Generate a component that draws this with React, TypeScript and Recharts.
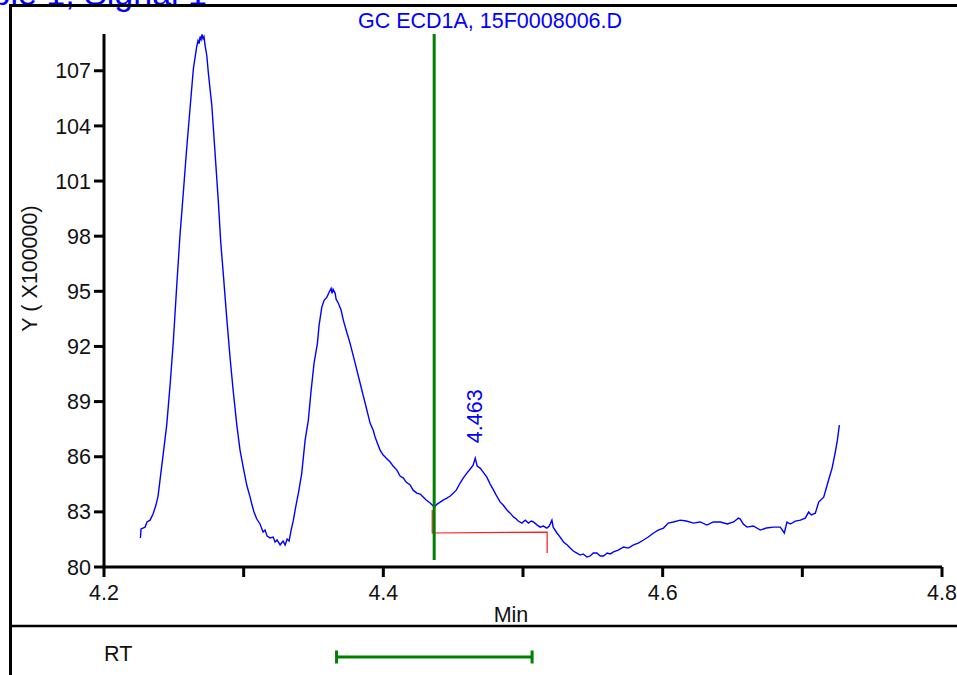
import { LineChart, Line, XAxis, YAxis, ReferenceDot } from "recharts";

// ── Chromatogram trace (retention time in min, signal in x100000) ───────────

const times = [
  4.2261, 4.2265, 4.2279, 4.2294, 4.2308, 4.2330, 4.2351, 4.2372, 4.2387, 4.2401,
  4.2423, 4.2449, 4.2473, 4.2496, 4.2521, 4.2544, 4.2568, 4.2592, 4.2616, 4.2640,
  4.2664, 4.2673, 4.2681, 4.2688, 4.2695, 4.2702, 4.2709, 4.2716, 4.2724, 4.2736,
  4.2747, 4.2759, 4.2772, 4.2795, 4.2819, 4.2836, 4.2855, 4.2879, 4.2903, 4.2926,
  4.2951, 4.2974, 4.2998, 4.3022, 4.3046, 4.3060, 4.3074, 4.3094, 4.3117, 4.3139,
  4.3153, 4.3168, 4.3189, 4.3211, 4.3225, 4.3239, 4.3261, 4.3282, 4.3297, 4.3311,
  4.3325, 4.3340, 4.3356, 4.3375, 4.3392, 4.3416, 4.3440, 4.3463, 4.3481, 4.3504,
  4.3528, 4.3540, 4.3559, 4.3576, 4.3595, 4.3612, 4.3626, 4.3633, 4.3640, 4.3655,
  4.3662, 4.3678, 4.3698, 4.3714, 4.3734, 4.3762, 4.3798, 4.3834, 4.3855, 4.3870,
  4.3891, 4.3905, 4.3927, 4.3941, 4.3963, 4.3977, 4.3999, 4.4013, 4.4034, 4.4049,
  4.4070, 4.4097, 4.4120, 4.4144, 4.4163, 4.4192, 4.4213, 4.4240, 4.4264, 4.4287,
  4.4307, 4.4335, 4.4350, 4.4364, 4.4385, 4.4407, 4.4428, 4.4455, 4.4479, 4.4502,
  4.4522, 4.4550, 4.4572, 4.4598, 4.4622, 4.4643, 4.4658, 4.4672, 4.4693, 4.4715,
  4.4741, 4.4765, 4.4789, 4.4808, 4.4837, 4.4858, 4.4885, 4.4908, 4.4932, 4.4944,
  4.4966, 4.4992, 4.5016, 4.5039, 4.5059, 4.5075, 4.5102, 4.5123, 4.5145, 4.5171,
  4.5188, 4.5207, 4.5216, 4.5243, 4.5266, 4.5290, 4.5317, 4.5338, 4.5360, 4.5386,
  4.5410, 4.5431, 4.5458, 4.5481, 4.5503, 4.5529, 4.5553, 4.5577, 4.5603, 4.5625,
  4.5648, 4.5682, 4.5720, 4.5754, 4.5792, 4.5825, 4.5863, 4.5897, 4.5935, 4.5968,
  4.6006, 4.6040, 4.6076, 4.6126, 4.6169, 4.6221, 4.6269, 4.6317, 4.6362, 4.6413,
  4.6463, 4.6508, 4.6542, 4.6556, 4.6577, 4.6604, 4.6649, 4.6699, 4.6742, 4.6794,
  4.6842, 4.6871, 4.6890, 4.6914, 4.6950, 4.6986, 4.7021, 4.7045, 4.7064, 4.7093,
  4.7117, 4.7153, 4.7188, 4.7213, 4.7236, 4.7251, 4.7265,
];

const signal = [
  81.58, 82.07, 82.12, 82.17, 82.45, 82.55, 82.88, 83.37, 83.86, 84.73,
  86.09, 87.72, 89.89, 92.23, 95.33, 98.04, 100.38, 102.77, 104.95, 107.12,
  108.32, 108.64, 108.48, 108.86, 108.70, 108.98, 108.75, 108.86, 108.37, 107.83,
  106.90, 106.03, 105.11, 102.55, 99.84, 97.66, 95.87, 93.53, 91.36, 89.51,
  87.72, 86.36, 85.38, 84.46, 83.80, 83.37, 82.99, 82.61, 82.34, 81.90,
  82.01, 81.68, 81.58, 81.63, 81.36, 81.47, 81.20, 81.41, 81.20, 81.52,
  81.41, 82.01, 82.55, 83.37, 84.02, 85.11, 86.90, 87.99, 89.46, 91.09,
  92.17, 93.15, 94.13, 94.51, 94.67, 94.95, 95.16, 94.89, 95.11, 94.89,
  94.57, 94.35, 93.97, 93.42, 92.88, 92.17, 91.09, 90.00, 89.35, 88.91,
  88.26, 87.83, 87.45, 87.07, 86.63, 86.36, 86.09, 85.98, 85.82, 85.71,
  85.49, 85.27, 84.95, 84.84, 84.62, 84.46, 84.18, 84.02, 83.97, 83.80,
  83.64, 83.48, 83.37, 83.26, 83.42, 83.53, 83.64, 83.75, 83.86, 84.02,
  84.18, 84.57, 84.84, 85.11, 85.33, 85.54, 85.92, 85.49, 85.38, 85.16,
  84.89, 84.51, 84.18, 83.91, 83.53, 83.37, 83.10, 82.93, 82.72, 82.66,
  82.50, 82.39, 82.55, 82.39, 82.50, 82.45, 82.28, 82.17, 82.23, 82.12,
  82.23, 82.55, 82.17, 81.85, 81.63, 81.36, 81.20, 81.03, 80.87, 80.76,
  80.65, 80.71, 80.54, 80.60, 80.76, 80.76, 80.60, 80.60, 80.76, 80.71,
  80.82, 80.92, 81.09, 81.03, 81.20, 81.30, 81.47, 81.63, 81.85, 82.01,
  82.12, 82.39, 82.45, 82.55, 82.50, 82.39, 82.45, 82.28, 82.45, 82.45,
  82.34, 82.45, 82.66, 82.61, 82.34, 82.17, 82.23, 82.01, 82.12, 82.17,
  82.17, 81.85, 82.45, 82.34, 82.50, 82.55, 82.66, 82.99, 82.83, 82.93,
  83.53, 83.80, 84.73, 85.38, 86.25, 86.90, 87.72,
];

// integration baseline (red) and expected-RT marker (green)
const baselineT = [4.435, 4.435, 4.5173, 4.5173];
const baselineV = [83.1, 81.85, 81.9, 80.76];
const markerT = [4.4364, 4.4364];
const markerV = [109, 80.38];
const rtWindow = [4.3665, 4.5065];

const peakRT = 4.463;
const peakName = "4.463";

const yTicks = [80, 83, 86, 89, 92, 95, 98, 101, 104, 107];
const xTicks = [4.2, 4.3, 4.4, 4.5, 4.6, 4.7, 4.8];
const xLabelled = [4.2, 4.4, 4.6, 4.8];

const FONT = "'Liberation Sans', Arial, sans-serif";
const BLUE = "#0000ff";
const GREEN = "#008000";

const trace = times.map((t, i) => ({ t, v: signal[i] }));
const baseline = baselineT.map((t, i) => ({ t, v: baselineV[i] }));
const marker = markerT.map((t, i) => ({ t, v: markerV[i] }));
const rtBar = rtWindow.map(t => ({ t, v: -0.2 }));
const peakTop = Math.max(...trace.filter(p => Math.abs(p.t - peakRT) < 0.01).map(p => p.v));

function YTitle(props: any) {
  const vb = props.viewBox ?? { x: 0, y: 34, width: 104, height: 533 };
  const x = vb.x + 30;
  const y = vb.y + vb.height / 2 - 32;
  return (
    <text x={x} y={y} transform={`rotate(-90 ${x} ${y})`} textAnchor="middle"
      dominantBaseline="central" fontSize={21.5} fontFamily={FONT} fill="#111">
      Y ( X100000)
    </text>
  );
}

function XTitle(props: any) {
  const vb = props.viewBox ?? { x: 104, y: 567, width: 838, height: 63 };
  return (
    <text x={vb.x + vb.width / 2 - 12} y={vb.y + 55} textAnchor="middle"
      fontSize={21.5} fontFamily={FONT} fill="#111">
      Min
    </text>
  );
}

function PeakTag(props: any) {
  const vb = props.viewBox ?? { x: 0, y: 0 };
  const x = vb.x + 11;
  const y = vb.y - 15;
  return (
    <text x={x} y={y} transform={`rotate(-90 ${x} ${y})`} textAnchor="start"
      fontSize={21.5} fontFamily={FONT} fill={BLUE}>
      {peakName}
    </text>
  );
}

function RtCap(props: any) {
  const { cx, cy, index } = props;
  return (
    <line key={`cap-${index}`} x1={cx} x2={cx} y1={cy - 6.5} y2={cy + 6.5}
      stroke={GREEN} strokeWidth={3} />
  );
}

export default function App() {
  return (
    <div style={{ position: "absolute", left: 0, top: 0, width: 957, height: 675,
      background: "#fff", fontFamily: FONT, overflow: "hidden" }}>
      <div style={{ position: "absolute", left: 0, top: 0 }}>
        <LineChart width={957} height={630} data={trace}
          margin={{ top: 34, right: 15, bottom: 0, left: 0 }}>
          <XAxis
            type="number"
            dataKey="t"
            domain={[4.2, 4.8]}
            ticks={xTicks}
            interval={0}
            allowDataOverflow
            height={63}
            tickSize={10}
            tickMargin={8}
            tickFormatter={v => (xLabelled.some(x => Math.abs(x - v) < 1e-6) ? v.toFixed(1) : "")}
            tick={{ fontSize: 21.5, fill: "#111", fontFamily: FONT }}
            tickLine={{ stroke: "#000", strokeWidth: 3 }}
            axisLine={{ stroke: "#000", strokeWidth: 3 }}
            label={(p: any) => <XTitle {...p} />}
          />
          <YAxis
            type="number"
            domain={[80, 109]}
            ticks={yTicks}
            interval={0}
            allowDataOverflow
            width={104}
            tickSize={10}
            tickMargin={3}
            tick={{ fontSize: 21.5, fill: "#111", fontFamily: FONT }}
            tickLine={{ stroke: "#000", strokeWidth: 3 }}
            axisLine={{ stroke: "#000", strokeWidth: 3 }}
            label={(p: any) => <YTitle {...p} />}
          />
          <Line type="linear" dataKey="v" stroke={BLUE} strokeWidth={1.4}
            dot={false} isAnimationActive={false} />
          <Line type="linear" data={baseline} dataKey="v" stroke="#ff1a1a" strokeWidth={1.2}
            dot={false} isAnimationActive={false} />
          <Line type="linear" data={marker} dataKey="v" stroke={GREEN} strokeWidth={3}
            dot={false} isAnimationActive={false} />
          <ReferenceDot x={peakRT} y={peakTop} r={0} fill="none" stroke="none"
            label={(p: any) => <PeakTag {...p} />} />
        </LineChart>
      </div>

      {/* RT window strip */}
      <div style={{ position: "absolute", left: 0, top: 630 }}>
        <LineChart width={957} height={45} data={rtBar}
          margin={{ top: 0, right: 15, bottom: 0, left: 104 }}>
          <XAxis type="number" dataKey="t" domain={[4.2, 4.8]} hide />
          <YAxis type="number" domain={[-1, 1]} hide />
          <Line type="linear" dataKey="v" stroke={GREEN} strokeWidth={3}
            dot={RtCap} isAnimationActive={false} />
        </LineChart>
      </div>

      {/* frame and header text */}
      <svg width={957} height={675} style={{ position: "absolute", left: 0, top: 0, pointerEvents: "none" }}>
        <text x={207} y={4.5} textAnchor="end" fontSize={34} fontFamily={FONT} fill={BLUE}>
          Sample 1, Signal 1
        </text>
        <line x1={9} x2={957} y1={5.5} y2={5.5} stroke="#000" strokeWidth={3} />
        <line x1={10.5} x2={10.5} y1={4} y2={675} stroke="#000" strokeWidth={3} />
        <line x1={9} x2={957} y1={626} y2={626} stroke="#000" strokeWidth={2.5} />
        <text x={490} y={28} textAnchor="middle" fontSize={21.5} fontFamily={FONT} fill={BLUE}>
          GC ECD1A, 15F0008006.D
        </text>
        <text x={104} y={661} fontSize={21.5} fontFamily={FONT} fill="#111">RT</text>
      </svg>
    </div>
  );
}
